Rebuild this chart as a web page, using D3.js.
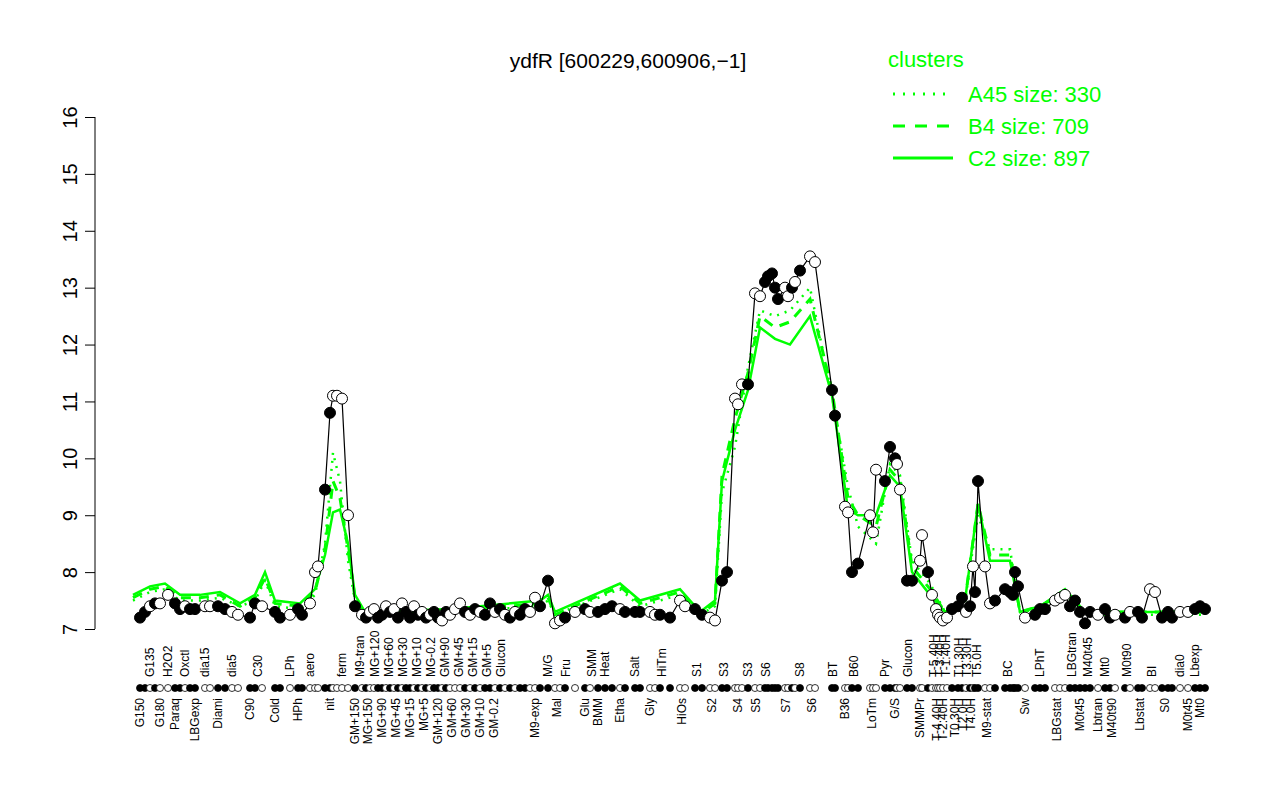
<!DOCTYPE html>
<html><head><meta charset="utf-8">
<script src="https://cdn.jsdelivr.net/npm/d3@7"></script>
<style>body{margin:0;background:#fff}</style></head>
<body><svg id="c" width="1280" height="800"></svg>
<script>
// observation positions along the axis, expression values, open(0)/filled(1)
var pos = [140,145,150,155,160,168,175,180,185,190,
  195,205,210,218,225,232,238,250,255,262,
  275,280,290,298,302,310,315,318,325,330,
  333,337,342,348,355,362,366,370,374,378,
  382,386,390,394,398,402,406,410,414,418,
  422,426,430,434,438,442,446,450,455,460,
  465,470,475,480,485,490,495,500,505,510,
  515,520,525,530,535,540,548,555,560,565,
  575,585,590,598,605,612,620,625,635,640,
  650,655,660,670,680,685,695,702,710,715,
  722,727,735,738,742,748,755,760,765,768,
  772,775,778,785,788,792,795,800,810,815,
  832,835,845,848,852,858,870,873,876,885,
  890,895,897,900,907,912,920,922,928,932,
  936,938,940,943,947,952,958,962,966,970,
  973,975,978,985,990,995,1005,1010,1013,1015,
  1018,1025,1035,1040,1045,1055,1060,1065,1070,1075,
  1080,1085,1090,1098,1105,1110,1115,1125,1130,1138,
  1142,1150,1155,1162,1168,1172,1180,1188,1195,1200,
  1205];
var vals = [7.2,7.3,7.4,7.45,7.45,7.6,7.45,7.35,7.4,7.35,
  7.35,7.4,7.4,7.4,7.35,7.3,7.25,7.2,7.45,7.4,
  7.3,7.2,7.25,7.35,7.25,7.45,8.0,8.1,9.45,10.8,
  11.1,11.1,11.05,9.0,7.4,7.25,7.2,7.3,7.35,7.2,
  7.25,7.4,7.3,7.35,7.2,7.45,7.3,7.2,7.4,7.25,
  7.3,7.2,7.25,7.3,7.2,7.15,7.3,7.25,7.35,7.45,
  7.3,7.25,7.35,7.3,7.25,7.45,7.3,7.35,7.25,7.2,
  7.3,7.25,7.35,7.3,7.55,7.4,7.85,7.1,7.15,7.2,
  7.3,7.35,7.3,7.3,7.35,7.4,7.35,7.3,7.3,7.3,
  7.3,7.25,7.25,7.2,7.5,7.4,7.35,7.25,7.2,7.15,
  7.85,8.0,11.05,10.95,11.3,11.3,12.9,12.85,13.1,13.2,
  13.25,13.0,12.8,13.0,12.85,13.0,13.1,13.3,13.55,13.45,
  11.2,10.75,9.15,9.05,8.0,8.15,9.0,8.7,9.8,9.6,
  10.2,10.0,9.9,9.45,7.85,7.85,8.2,8.65,8.0,7.6,
  7.35,7.25,7.2,7.15,7.2,7.35,7.4,7.55,7.3,7.4,
  8.1,7.65,9.6,8.1,7.45,7.5,7.7,7.65,7.6,8.0,
  7.75,7.2,7.25,7.35,7.35,7.5,7.55,7.6,7.4,7.5,
  7.3,7.1,7.3,7.25,7.35,7.2,7.25,7.2,7.3,7.3,
  7.2,7.7,7.65,7.2,7.3,7.2,7.3,7.3,7.35,7.4,
  7.35];
var filled = [1,1,0,1,0,0,1,1,0,1,
  1,0,0,1,1,0,0,1,1,0,
  1,1,0,1,1,0,0,0,1,1,
  0,0,0,0,1,0,1,0,0,1,
  1,0,1,0,1,0,1,1,0,1,
  0,1,0,1,1,0,1,0,0,0,
  1,0,1,0,1,1,0,1,0,1,
  0,1,1,0,0,1,1,0,0,1,
  0,1,0,1,1,1,0,1,1,1,
  0,0,1,1,0,0,1,1,0,0,
  1,1,0,0,0,1,0,0,1,1,
  1,1,1,0,0,1,0,1,0,0,
  1,1,0,0,1,1,0,0,0,1,
  1,1,0,0,1,1,0,0,1,0,
  0,0,0,0,0,1,1,1,0,1,
  0,1,1,0,0,1,1,1,1,1,
  1,0,1,1,1,0,0,0,1,1,
  1,1,1,0,1,1,0,1,0,1,
  1,0,0,1,1,1,0,0,1,1,
  1];
var labels = ["G150","G135","G180","H2O2","Paraq","Oxctl","LBGexp","dia15","Diami","dia5",
  "C90","C30","Cold","LPh","HPh","aero","nit","ferm","GM+150","M9-tran",
  "MG+150","MG+120","MG+90","MG+60","MG+45","MG+30","MG+15","MG+10","MG+5","MG-0.2",
  "GM+120","GM+90","GM+60","GM+45","GM+30","GM+15","GM+10","GM+5","GM-0.2","Glucon",
  "M9-exp","M/G","Mal","Fru","Glu","SMM","BMM","Heat","Etha","Salt",
  "Gly","HiTm","HiOs","S1","S2","S3","S4","S3","S5","S6",
  "S7","S8","S6","BT","B36","B60","LoTm","Pyr","G/S","Glucon",
  "SMMPr","T-5.40H","T-4.40H","T-3.40H","T-2.40H","T-1.40H","T0.30H","T1.30H","T2.0H","T3.30H",
  "T4.0H","T5.0H","M9-stat","BC","Sw","LPhT","LBGstat","LBGtran","M0t45","M40t45",
  "Lbtran","Mt0","M40t90","M0t90","Lbstat","BI","S0","dia0","M0t45","Lbexp",
  "Mt0"];
var labelPos = [140,150,160,168,175,185,195,205,218,232,
  250,258,275,290,298,310,330,342,355,360,
  368,375,382,389,396,403,410,417,424,431,
  438,445,452,459,466,473,480,487,494,501,
  535,548,557,566,585,592,598,605,620,635,
  650,662,682,697,712,724,738,748,756,766,
  786,800,812,833,845,854,872,885,895,908,
  920,934,937,940,943,946,955,959,963,967,
  971,977,987,1008,1025,1040,1057,1072,1080,1088,
  1098,1105,1112,1127,1140,1152,1165,1180,1188,1195,
  1200];
// green cluster mean lines
var gPos = [133,150,165,180,200,220,240,255,265,275,
  300,315,325,333,340,348,355,365,450,540,
  548,555,620,640,680,700,715,722,735,748,
  760,775,790,810,832,848,858,876,890,900,
  912,930,945,965,978,990,1010,1020,1040,1065,
  1085,1150,1160,1205];
var c2 = [7.6,7.75,7.8,7.6,7.6,7.65,7.45,7.6,8.0,7.5,
  7.45,7.7,8.3,9.05,9.1,8.5,7.6,7.3,7.35,7.5,
  7.6,7.3,7.8,7.5,7.7,7.3,7.5,9.6,10.5,11.2,
  12.3,12.1,12.0,12.5,11.1,9.1,9.0,9.0,9.7,9.5,
  8.0,7.6,7.3,7.5,9.2,8.2,8.2,7.3,7.4,7.7,
  7.3,7.3,7.3,7.3];
var b4 = [7.55,7.7,7.75,7.55,7.55,7.6,7.4,7.55,7.9,7.45,
  7.4,7.65,8.4,9.6,9.3,8.4,7.55,7.25,7.3,7.45,
  7.55,7.25,7.75,7.45,7.65,7.25,7.45,9.7,10.7,11.5,
  12.5,12.3,12.4,12.8,11.2,9.3,9.0,8.8,9.8,9.6,
  8.1,7.7,7.3,7.5,9.2,8.3,8.3,7.3,7.4,7.65,
  7.3,7.3,7.3,7.3];
var a45 = [7.5,7.65,7.7,7.5,7.5,7.55,7.4,7.5,7.85,7.4,
  7.35,7.6,8.5,10.1,9.6,8.2,7.5,7.25,7.3,7.4,
  7.5,7.25,7.7,7.4,7.6,7.25,7.4,9.4,10.2,11.6,
  12.6,12.5,12.6,13.0,11.1,9.5,8.8,8.5,9.9,9.7,
  8.2,7.8,7.3,7.5,9.0,8.4,8.4,7.3,7.35,7.6,
  7.25,7.25,7.25,7.25];

var svg = d3.select("#c");
var x = d3.scaleLinear().domain([133, 1210]).range([133, 1210]);
var y = d3.scaleLinear().domain([7, 16]).range([629, 117]);
var font = "Liberation Sans, Arial, sans-serif";

svg.append("text").attr("x", 628).attr("y", 68).attr("text-anchor", "middle")
  .style("font-family", font).style("font-size", "21px").text("ydfR [600229,600906,\u22121]");

var ax = svg.append("g").attr("transform", "translate(95,0)")
  .call(d3.axisLeft(y).ticks(9).tickSize(10).tickFormat(d3.format("d")));
ax.select(".domain").attr("stroke", "#000").attr("d", "M0," + y(7) + "V" + y(16));
ax.selectAll(".tick line").attr("stroke", "#000");
ax.selectAll(".tick text").attr("x", null).attr("dy", null)
  .attr("transform", "translate(-18,0) rotate(-90)").attr("text-anchor", "middle")
  .style("font-family", font).style("font-size", "20px");

var green = "#00ff00";
function gline(v, dash, w) {
  svg.append("path").datum(v).attr("fill", "none").attr("stroke", green)
    .attr("stroke-width", w).attr("stroke-dasharray", dash)
    .attr("d", d3.line().x(function(d, i) { return x(gPos[i]); }).y(function(d) { return y(d); }));
}
gline(a45, "2,6", 2.5);
gline(b4, "10,8", 3);
gline(c2, null, 2.5);

svg.append("path").datum(vals).attr("fill", "none").attr("stroke", "#000").attr("stroke-width", 1.2)
  .attr("d", d3.line().x(function(d, i) { return x(pos[i]); }).y(function(d) { return y(d); }));
svg.selectAll("circle.pt").data(vals).enter().append("circle").attr("class", "pt")
  .attr("cx", function(d, i) { return x(pos[i]); }).attr("cy", function(d) { return y(d); })
  .attr("r", 5.5).attr("stroke", "#000").attr("stroke-width", 1)
  .attr("fill", function(d, i) { return filled[i] ? "#000" : "#fff"; });

svg.selectAll("circle.rug").data(pos).enter().append("circle").attr("class", "rug")
  .attr("cx", function(d) { return x(d); }).attr("cy", 688).attr("r", 3.5)
  .attr("stroke", "#000").attr("stroke-width", 0.8)
  .attr("fill", function(d, i) { return filled[i] ? "#000" : "#fff"; });

// labels alternate between a row below the rug and a row above it
svg.selectAll("text.lab").data(labels).enter().append("text").attr("class", "lab")
  .attr("transform", function(d, i) {
    return "translate(" + (x(labelPos[i]) + 4) + "," + (i % 2 ? 677 : 698) + ") rotate(-90)";
  })
  .attr("text-anchor", function(d, i) { return i % 2 ? "start" : "end"; })
  .style("font-family", font).style("font-size", "12px").text(function(d) { return d; });

var leg = svg.append("g").style("font-family", font);
leg.append("text").attr("x", 888).attr("y", 67).attr("fill", green).style("font-size", "22px").text("clusters");
var legItems = [["A45 size: 330", "2,8"], ["B4 size: 709", "12,10"], ["C2 size: 897", null]];
legItems.forEach(function(d, i) {
  var yy = 94 + i * 32;
  leg.append("line").attr("x1", 893).attr("x2", 953).attr("y1", yy).attr("y2", yy)
    .attr("stroke", green).attr("stroke-width", 3).attr("stroke-dasharray", d[1]);
  leg.append("text").attr("x", 968).attr("y", yy + 8).attr("fill", green).style("font-size", "22px").text(d[0]);
});
</script></body></html>
